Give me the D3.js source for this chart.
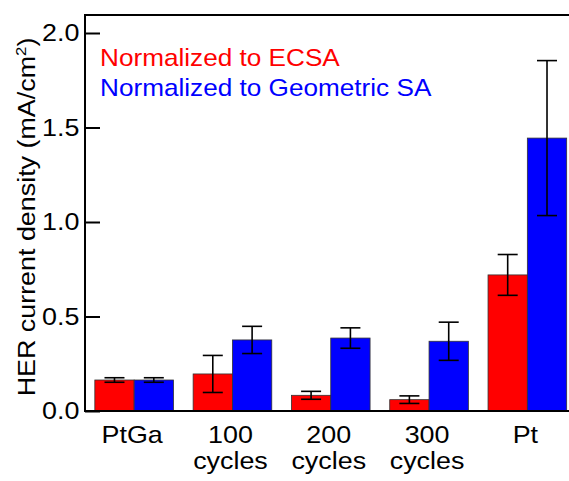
<!DOCTYPE html>
<head>
<meta charset="utf-8">
<title>HER current density</title>
<script src="https://d3js.org/d3.v7.min.js"></script>
<style>
body { margin: 0; background: #fff; }
svg text { font-family: "Liberation Sans", Arial, sans-serif; font-size: 24px; fill: #000; }
.axis path, .axis line { stroke: #000; stroke-width: 2; }
.bar { stroke: #333; stroke-width: 0.8; }
.err { stroke: #000; stroke-width: 1.6; fill: none; }
</style>
</head>
<body>
<div id="container"></div>
<script>
// ---- data ----
const categories = ["PtGa", "100\ncycles", "200\ncycles", "300\ncycles", "Pt"];
const seriesNames = ["Normalized to ECSA", "Normalized to Geometric SA"];
const ecsaValues = [0.164, 0.196, 0.083, 0.060, 0.720];
const ecsaErrors = [0.012, 0.098, 0.021, 0.020, 0.108];
const geoValues = [0.164, 0.376, 0.386, 0.369, 1.444];
const geoErrors = [0.012, 0.072, 0.054, 0.101, 0.410];
const yTicks = [0, 0.5, 1.0, 1.5, 2.0];
const colors = ["#ff0000", "#0000ff"];

// ---- layout ----
const W = 569, H = 481;
const plotLeft = 85, plotBottom = 411, plotTop = 15;
const stretch = 1.12;   // text in the original is a bit wide
const legendStretch = 1.09;

const svg = d3.select("#container").append("svg")
    .attr("width", W)
    .attr("height", H);

const x = d3.scaleBand()
    .domain(categories)
    .range([plotLeft, 576.5])
    .paddingInner(0.2)
    .paddingOuter(0.1);

const xs = d3.scaleBand()
    .domain([0, 1])
    .range([0, x.bandwidth()]);

const y = d3.scaleLinear()
    .domain([0, 2])
    .range([plotBottom, 33]);

const rows = categories.map(function(c, i) {
    return [
        {cat: c, s: 0, v: ecsaValues[i], e: ecsaErrors[i]},
        {cat: c, s: 1, v: geoValues[i], e: geoErrors[i]}
    ];
});

// ---- bars ----
const groups = svg.selectAll(".grp")
    .data(rows)
    .enter().append("g")
    .attr("class", "grp")
    .attr("transform", d => "translate(" + x(d[0].cat) + ",0)");

groups.selectAll("rect")
    .data(d => d)
    .enter().append("rect")
    .attr("class", "bar")
    .attr("x", d => xs(d.s))
    .attr("width", xs.bandwidth())
    .attr("y", d => y(d.v))
    .attr("height", d => y(0) - y(d.v))
    .attr("fill", d => colors[d.s]);

// ---- error bars ----
const capW = 10;
const errs = groups.selectAll(".errg")
    .data(d => d)
    .enter().append("g")
    .attr("class", "errg")
    .attr("transform", d => "translate(" + (xs(d.s) + xs.bandwidth() / 2) + ",0)");

errs.append("line").attr("class", "err")
    .attr("y1", d => y(d.v - d.e)).attr("y2", d => y(d.v + d.e));
errs.append("line").attr("class", "err")
    .attr("x1", -capW).attr("x2", capW)
    .attr("y1", d => y(d.v + d.e)).attr("y2", d => y(d.v + d.e));
errs.append("line").attr("class", "err")
    .attr("x1", -capW).attr("x2", capW)
    .attr("y1", d => y(d.v - d.e)).attr("y2", d => y(d.v - d.e));

// ---- axes ----
const yAxis = d3.axisLeft(y)
    .tickValues(yTicks)
    .tickFormat(d3.format(".1f"))
    .tickSizeInner(-15)
    .tickSizeOuter(0)
    .tickPadding(5);

const gy = svg.append("g")
    .attr("class", "axis")
    .attr("transform", "translate(" + plotLeft + ",0)")
    .call(yAxis);
gy.select(".domain").remove();
gy.selectAll("text")
    .style("font-size", "24px")
    .style("font-family", "'Liberation Sans', Arial, sans-serif")
    .attr("fill", "#000")
    .attr("transform", "scale(" + stretch + ",1)");

// frame lines: left, bottom, top
svg.append("line").attr("class", "err").style("stroke-width", 2)
    .attr("x1", plotLeft).attr("x2", plotLeft).attr("y1", plotTop - 1).attr("y2", plotBottom + 1);
svg.append("line").attr("class", "err").style("stroke-width", 2)
    .attr("x1", plotLeft - 1).attr("x2", W).attr("y1", plotBottom).attr("y2", plotBottom);
svg.append("line").attr("class", "err").style("stroke-width", 2)
    .attr("x1", plotLeft - 1).attr("x2", W).attr("y1", plotTop).attr("y2", plotTop);

// ---- x labels ----
const xl = svg.selectAll(".xlab")
    .data(categories)
    .enter().append("g")
    .attr("class", "xlab")
    .attr("transform", d => "translate(" + (x(d) + x.bandwidth() / 2 - 2) + ",0) scale(" + stretch + ",1)");

xl.each(function(d) {
    const lines = d.split("\n");
    const t = d3.select(this).append("text").attr("text-anchor", "middle");
    lines.forEach(function(s, i) {
        t.append("tspan").attr("x", 0).attr("y", 443 + i * 26).text(s);
    });
});

// ---- legend ----
seriesNames.forEach(function(name, i) {
    svg.append("g")
        .attr("transform", "translate(100," + (66 + i * 30) + ") scale(" + legendStretch + ",1)")
        .append("text")
        .style("fill", colors[i])
        .text(name);
});

// ---- y title ----
const yt = svg.append("g")
    .attr("transform", "translate(35," + ((plotBottom + plotTop) / 2 + 4) + ") rotate(-90) scale(" + stretch + ",1)")
    .append("text")
    .attr("text-anchor", "middle");
yt.append("tspan").text("HER current density (mA/cm");
yt.append("tspan").attr("dy", -9).style("font-size", "15px").text("2");
yt.append("tspan").attr("dy", 9).text(")");
</script>
</body>
